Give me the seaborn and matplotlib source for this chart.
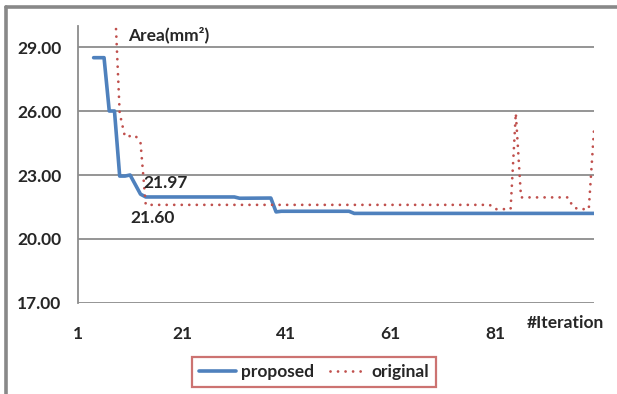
import matplotlib
matplotlib.use("Agg")
import matplotlib.pyplot as plt
import seaborn as sns
from matplotlib.lines import Line2D

# values (knots where the value changes)
prop_iter = [4, 6, 7, 8, 9, 10, 11, 12, 13, 14, 31, 32, 38, 39, 40, 53, 54, 100]
prop_area = [28.5, 28.5, 26.0, 26.0, 22.95, 22.95, 23.0, 22.55, 22.1, 21.97,
             21.97, 21.91, 21.92, 21.27, 21.3, 21.3, 21.2, 21.2]

orig_iter = [8, 9, 10, 12, 13, 14, 80, 81, 84, 85, 86, 95, 96, 97, 99, 100]
orig_area = [31.5, 25.9, 24.8, 24.85, 24.5, 21.6, 21.6, 21.4, 21.4, 25.9,
             21.95, 21.95, 21.5, 21.4, 21.4, 25.1]

x_ticks = [1, 21, 41, 61, 81]
y_ticks = [17, 20, 23, 26, 29]
y_labels = ["17.00", "20.00", "23.00", "26.00", "29.00"]

blue = "#4f81bd"
red = "#c0504d"
grid_gray = "#8c8c8c"
fs = 12.5


def main():
    sns.set_style("white")
    plt.rcParams["font.family"] = ["Lato", "DejaVu Sans"]
    plt.rcParams["font.weight"] = "bold"

    fig = plt.figure(figsize=(6.17, 3.94), dpi=100)
    ax = fig.add_axes([0.1264, 0.231, 0.8363, 0.7038])

    sns.lineplot(x=prop_iter, y=prop_area, ax=ax, color=blue, linewidth=2.6,
                 label="proposed")
    sns.lineplot(x=orig_iter, y=orig_area, ax=ax, color=red, linewidth=2.0,
                 linestyle=(0, (0.01, 2.7)), dash_capstyle="round", label="original")

    ax.set_xlim(1, 100)
    ax.set_ylim(17, 30)
    ax.set_xticks(x_ticks)
    ax.set_xticklabels([str(t) for t in x_ticks], fontsize=fs, fontweight="bold")
    ax.set_yticks(y_ticks)
    ax.set_yticklabels(y_labels, fontsize=fs, fontweight="bold")
    ax.tick_params(axis="x", length=0, pad=16.5)
    ax.tick_params(axis="y", length=0, pad=12)

    for y in y_ticks:
        ax.axhline(y, color=grid_gray, linewidth=1.3, zorder=0)
    for side in ["top", "right", "bottom"]:
        ax.spines[side].set_visible(False)
    ax.spines["left"].set_color(grid_gray)
    ax.spines["left"].set_linewidth(1.3)

    ax.annotate("21.97", xy=(14, 21.97), xytext=(14.5, 10), textcoords="offset points",
                ha="center", va="center", fontsize=fs, fontweight="bold")
    ax.annotate("21.60", xy=(14, 21.6), xytext=(5, -9.5), textcoords="offset points",
                ha="center", va="center", fontsize=fs, fontweight="bold")

    fig.text(0.273, 0.911, "Area(mm²)", ha="center", va="center",
             fontsize=fs, fontweight="bold")
    fig.text(0.9166, 0.18, "#Iteration", ha="center", va="center",
             fontsize=fs, fontweight="bold")

    ax.legend(loc="center", bbox_to_anchor=(0.509, 0.056), bbox_transform=fig.transFigure,
              ncol=2, fancybox=False, edgecolor=red, handlelength=2.1,
              handletextpad=0.3, columnspacing=0.9,
              prop={"weight": "bold", "size": fs}, borderpad=0.42)
    leg = ax.get_legend()
    leg.get_frame().set_linewidth(1.6)

    # outer frame lines (top and left)
    fig.add_artist(Line2D([0.009, 1.0], [0.981, 0.981], color="#888888", linewidth=2.6,
                          transform=fig.transFigure))
    fig.add_artist(Line2D([0.009, 0.009], [0.0, 0.981], color="#888888", linewidth=2.6,
                          transform=fig.transFigure))

    fig.savefig("out.png", dpi=100)


main()
